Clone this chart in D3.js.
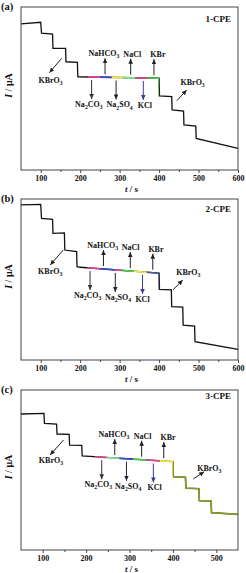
<!DOCTYPE html>
<html><head><meta charset="utf-8">
<script src="https://cdn.jsdelivr.net/npm/d3@7"></script>
<style>body{margin:0;background:#fff}svg{display:block}</style>
</head><body>
<script>
// ---------- data ----------
const panelTags = ["(a)", "(b)", "(c)"];
const electrodeNames = ["1-CPE", "2-CPE", "3-CPE"];
const timeDomains = [[50, 600], [50, 600], [50, 550]];
const majorTicks = [[100, 200, 300, 400, 500, 600], [100, 200, 300, 400, 500, 600], [100, 200, 300, 400, 500]];
const minorTicks = [[150, 250, 350, 450, 550], [150, 250, 350, 450, 550], [150, 250, 350, 450]];

const timeA    = [50, 100, 102, 130, 131, 163, 164, 193, 194, 400, 401, 432, 433, 462, 463, 493, 494, 600];
const currentA = [89.6, 90.6, 83.9, 83.4, 74.7, 74.6, 66.4, 66.0, 57.2, 56.3, 45.4, 45.0, 36.8, 36.2, 27.6, 27.0, 19.4, 13.3];
const timeB    = [50, 100, 102, 130, 131, 160, 161, 191, 192, 200, 400, 401, 431, 432, 460, 461, 490, 491, 600];
const currentB = [96.3, 96.7, 88.0, 87.4, 78.7, 78.9, 68.3, 67.3, 58.0, 57.6, 53.9, 43.9, 43.5, 33.1, 32.9, 21.7, 21.1, 11.4, 6.6];
const timeC    = [50, 103, 104, 132, 133, 161, 162, 190, 191, 400, 401, 429, 430, 460, 461, 488, 489, 550];
const currentC = [85.0, 85.4, 79.2, 78.75, 72.5, 72.3, 65.6, 65.4, 58.75, 55.2, 45.8, 45.4, 38.6, 38.3, 30.8, 30.6, 23.3, 22.3];

// coloured trace segments (time boundaries)
const segTimesA = [220, 250, 280, 310, 340, 370, 400];
const segTimesB = [218, 250, 288, 305, 335, 369, 400];
const segTimesC = [220, 247, 277, 308, 339, 370, 400, 550];

// ion additions
const ionNames = ["Na2CO3", "NaHCO3", "Na2SO4", "NaCl", "KCl", "KBr"];
const ionDirections = ["down", "up", "down", "up", "down", "up"];
const ionTimesA = [229, 263, 291, 328, 360, 387];
const ionTimesB = [225, 259, 289, 327, 358, 384];
const ionTimesC = [236, 266, 293, 328, 355, 379];
const ionLabelTimesA = [222, 260, 300, 332, 364, 397];
const ionLabelTimesB = [219, 257, 296, 328, 358, 392];
const ionLabelTimesC = [228, 264, 297, 330, 358, 389];

// KBrO3 annotations: label [t, I], arrow [t0, I0, t1, I1]
const kbrLabel = "KBrO3";
const kbrLabelsA = [[125, 53.4], [485, 52.3]];
const kbrArrowsA = [[153, 68.5, 122, 59.7], [445, 42.5, 470, 49.1]];
const kbrLabelsB = [[124, 53.6], [474, 53.0]];
const kbrArrowsB = [[157, 68.3, 124, 59.0], [435, 43.5, 460, 49.7]];
const kbrLabelsC = [[119, 54.4], [484, 49.2]];
const kbrArrowsC = [[148, 68.75, 117, 59.4], [447, 44.4, 472, 48.9]];

// ---------- styles ----------
const segColorsA = ["#e2468f", "#3a4cc8", "#f0ec3c", "#80e890", "#e2468f", "#4ccb4c"];
const segColorsB = ["#e2468f", "#3a4cc8", "#e2468f", "#4ccb4c", "#f0ec3c", "#4a5a9a"];
const segColorsC = ["#e2468f", "#80e890", "#3a4cc8", "#4ccb4c", "#e2468f", "#f0ec3c", "#8a9a2a"];
const ionArrowColors = ["#333", "#222", "#223", "#222", "#3b3b9a", "#222"];
const nameOffsets = [15, 12.5, 8.5];
const FONT = "'Liberation Serif','Times New Roman',serif";

const panels = [
  {times: timeA, cur: currentA, seg: segTimesA, segC: segColorsA, ion: ionTimesA, ionL: ionLabelTimesA, kl: kbrLabelsA, ka: kbrArrowsA, top: 7, bottom: 170},
  {times: timeB, cur: currentB, seg: segTimesB, segC: segColorsB, ion: ionTimesB, ionL: ionLabelTimesB, kl: kbrLabelsB, ka: kbrArrowsB, top: 199, bottom: 360},
  {times: timeC, cur: currentC, seg: segTimesC, segC: segColorsC, ion: ionTimesC, ionL: ionLabelTimesC, kl: kbrLabelsC, ka: kbrArrowsC, top: 390, bottom: 550}
];

const W = 246, H = 573, L = 21, R = 238;
const svg = d3.select("body").append("svg").attr("width", W).attr("height", H)
  .style("font-family", FONT);

const defs = svg.append("defs");
function marker(id, color) {
  defs.append("marker").attr("id", id).attr("markerUnits", "userSpaceOnUse")
    .attr("markerWidth", 6).attr("markerHeight", 6).attr("refX", 5).attr("refY", 2.3)
    .attr("orient", "auto")
    .append("path").attr("d", "M0,0L5,2.3L0,4.6Z").attr("fill", color);
}
const markerIds = {};
ionArrowColors.concat(["#222"]).forEach((c, i) => {
  if (!markerIds[c]) { markerIds[c] = "m" + i; marker("m" + i, c); }
});

function chem(sel, str, size) {
  const parts = str.match(/\d+|\D+/g);
  let shifted = false;
  parts.forEach(p => {
    const isNum = /^\d+$/.test(p);
    const t = sel.append("tspan").text(p);
    if (isNum) { t.attr("font-size", size * 0.72).attr("dy", shifted ? 0 : 2.2); shifted = true; }
    else { if (shifted) { t.attr("dy", -2.2); shifted = false; } }
  });
}

panels.forEach((p, k) => {
  const x = d3.scaleLinear().domain(timeDomains[k]).range([L, R]);
  const y = d3.scaleLinear().domain([0, 100]).range([p.bottom, p.top]);
  const g = svg.append("g");

  const pts = p.times.map((t, i) => [t, p.cur[i]]);
  const line = d3.line().x(d => x(d[0])).y(d => y(d[1]));

  const at = t => {
    for (let i = 1; i < p.times.length; i++) {
      if (t <= p.times[i]) {
        const t0 = p.times[i - 1], t1 = p.times[i];
        return p.cur[i - 1] + (p.cur[i] - p.cur[i - 1]) * (t - t0) / (t1 - t0);
      }
    }
    return p.cur[p.cur.length - 1];
  };

  g.append("path").attr("d", line(pts)).attr("fill", "none").attr("stroke", "#111").attr("stroke-width", 1.3);

  for (let s = 0; s < p.seg.length - 1; s++) {
    const cid = `clip${k}_${s}`;
    defs.append("clipPath").attr("id", cid).append("rect")
      .attr("x", x(p.seg[s])).attr("width", x(p.seg[s + 1]) - x(p.seg[s]))
      .attr("y", p.top).attr("height", p.bottom - p.top);
    g.append("path").attr("d", line(pts)).attr("fill", "none")
      .attr("stroke", p.segC[s]).attr("stroke-width", 1.7).attr("clip-path", `url(#${cid})`);
  }

  g.append("rect").attr("x", L).attr("y", p.top).attr("width", R - L).attr("height", p.bottom - p.top)
    .attr("fill", "none").attr("stroke", "#444").attr("stroke-width", 1);

  const ax = g.append("g").attr("transform", `translate(0,${p.bottom})`)
    .call(d3.axisBottom(x).tickValues(majorTicks[k]).tickSize(3).tickSizeOuter(0).tickPadding(2));
  ax.select(".domain").remove();
  ax.selectAll("text").attr("font-family", FONT).attr("font-size", 8).attr("font-weight", "bold").attr("fill", "#111");
  ax.selectAll("line").attr("stroke", "#444");
  const mx = g.append("g").attr("transform", `translate(0,${p.bottom})`)
    .call(d3.axisBottom(x).tickValues(minorTicks[k]).tickSize(2).tickFormat(""));
  mx.select(".domain").remove();
  mx.selectAll("line").attr("stroke", "#444");

  const xt = g.append("text").attr("x", (L + R) / 2 + 2).attr("y", p.bottom + 21.5)
    .attr("text-anchor", "middle").attr("font-size", 9).attr("font-weight", "bold").attr("fill", "#111");
  xt.append("tspan").attr("font-style", "italic").text("t");
  xt.append("tspan").text(" / s");
  const ym = (p.top + p.bottom) / 2 - 3;
  const yt = g.append("text").attr("transform", `translate(11.5,${ym}) rotate(-90)`)
    .attr("text-anchor", "middle").attr("font-size", 10).attr("font-weight", "bold").attr("fill", "#111");
  yt.append("tspan").attr("font-style", "italic").text("I");
  yt.append("tspan").text(" / μA");

  g.append("text").attr("x", 1).attr("y", p.top + 3).attr("font-size", 10.5).attr("font-weight", "bold")
    .attr("fill", "#111").text(panelTags[k]);
  g.append("text").attr("x", R - 7).attr("y", p.top + nameOffsets[k]).attr("text-anchor", "end")
    .attr("font-size", 9).attr("font-weight", "bold").attr("fill", "#111").text(electrodeNames[k]);

  ionNames.forEach((name, i) => {
    const t = p.ion[i];
    const ly = y(at(t));
    const up = ionDirections[i] === "up";
    const col = ionArrowColors[i];
    g.append("line").attr("x1", x(t)).attr("x2", x(t))
      .attr("y1", up ? ly - 3 : ly + 3).attr("y2", up ? ly - 19 : ly + 22)
      .attr("stroke", col).attr("stroke-width", 1).attr("marker-end", `url(#${markerIds[col]})`);
    const tx = g.append("text").attr("x", x(p.ionL[i])).attr("y", up ? ly - 21 : ly + 30)
      .attr("text-anchor", "middle").attr("font-size", 8).attr("font-weight", "bold").attr("fill", "#111");
    chem(tx, name, 8);
  });

  p.kl.forEach((d, i) => {
    const tx = g.append("text").attr("x", x(d[0])).attr("y", y(d[1]))
      .attr("text-anchor", "middle").attr("font-size", 8).attr("font-weight", "bold").attr("fill", "#111");
    chem(tx, kbrLabel, 8);
    const a = p.ka[i];
    g.append("line").attr("x1", x(a[0])).attr("y1", y(a[1])).attr("x2", x(a[2])).attr("y2", y(a[3]))
      .attr("stroke", "#222").attr("stroke-width", 1).attr("marker-end", `url(#${markerIds["#222"]})`);
  });
});
</script>
</body></html>
